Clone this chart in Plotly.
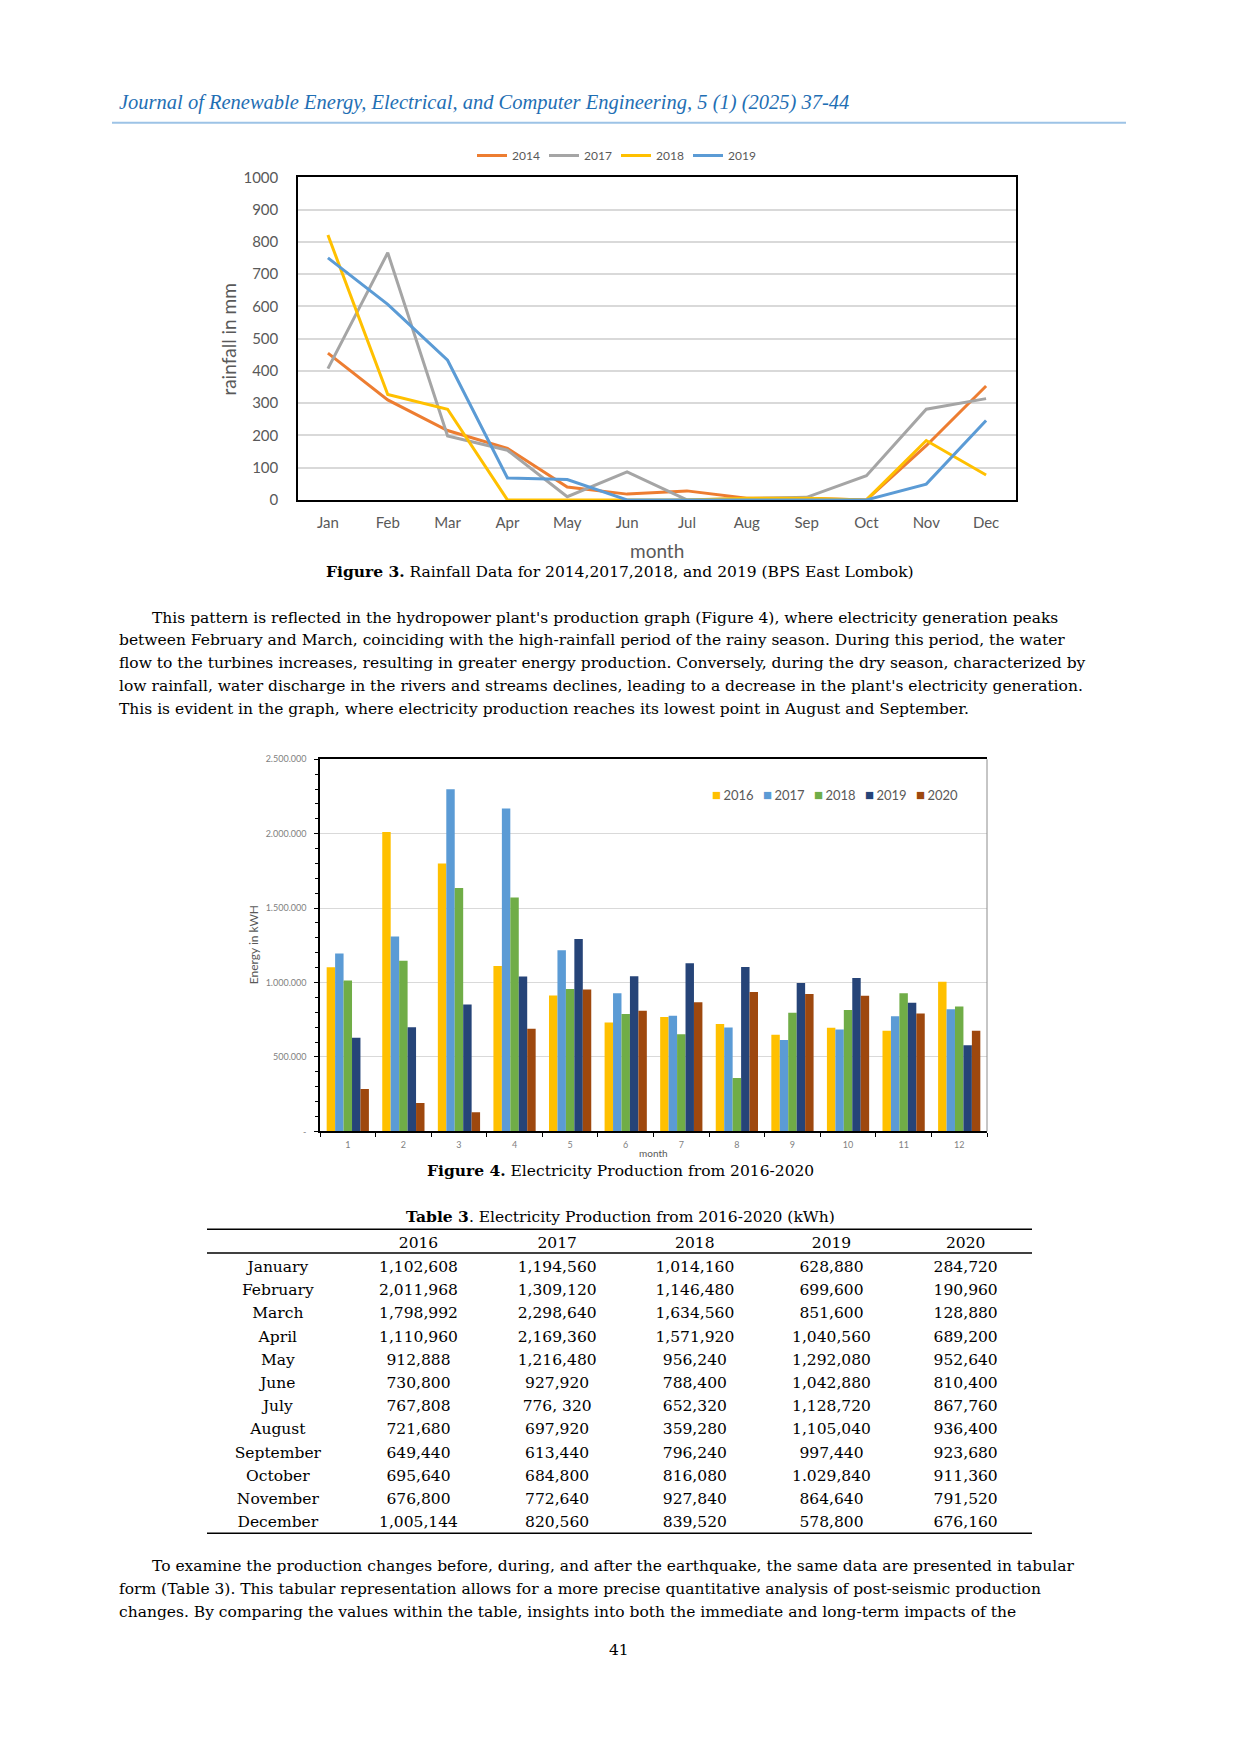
import plotly.graph_objects as go

W, H = 1240, 1754

# ---------------- Data ----------------
months_short = ["Jan", "Feb", "Mar", "Apr", "May", "Jun", "Jul", "Aug", "Sep", "Oct", "Nov", "Dec"]
rain_2014 = [455, 310, 215, 160, 40, 18, 28, 5, 5, 0, 168, 353]
rain_2017 = [407, 766, 198, 154, 10, 87, 0, 5, 8, 75, 281, 314]
rain_2018 = [821, 327, 281, 0, 0, 0, 0, 5, 5, 0, 184, 77]
rain_2019 = [750, 606, 433, 68, 63, 0, 0, 0, 0, 0, 49, 246]

month_num = [str(i) for i in range(1, 13)]
months_long = ["January", "February", "March", "April", "May", "June", "July",
               "August", "September", "October", "November", "December"]
prod_2016 = [1102608, 2011968, 1798992, 1110960, 912888, 730800, 767808, 721680, 649440, 695640, 676800, 1005144]
prod_2017 = [1194560, 1309120, 2298640, 2169360, 1216480, 927920, 776320, 697920, 613440, 684800, 772640, 820560]
prod_2018 = [1014160, 1146480, 1634560, 1571920, 956240, 788400, 652320, 359280, 796240, 816080, 927840, 839520]
prod_2019 = [628880, 699600, 851600, 1040560, 1292080, 1042880, 1128720, 1105040, 997440, 1029840, 864640, 578800]
prod_2020 = [284720, 190960, 128880, 689200, 952640, 810400, 867760, 936400, 923680, 911360, 791520, 676160]

energy_tickvals = [0, 500000, 1000000, 1500000, 2000000, 2500000]
energy_ticktext = ["-", "500.000", "1.000.000", "1.500.000", "2.000.000", "2.500.000"]

# table text as printed (two typographic quirks in the source table)
table_quirks = {("2017", 6): "776, 320", ("2019", 9): "1.029,840"}


def fmt_col(year, vals):
    return [table_quirks.get((year, i), f"{v:,}") for i, v in enumerate(vals)]


# ---------------- helpers ----------------
def px_x(x):
    return x / W


def px_y(y):
    return 1 - y / H


SERIF = "DejaVu Serif"
SERIF_IT = "Liberation Serif"
SANS = "Lato"
GRAY_TXT = "#595959"
BODY = 15.5

fig = go.Figure()

# ---------------- Figure 3: rainfall lines ----------------
rain_series = [("2014", rain_2014, "#ED7D31"), ("2017", rain_2017, "#A5A5A5"),
               ("2018", rain_2018, "#FFC000"), ("2019", rain_2019, "#5B9BD5")]
for name, vals, col in rain_series:
    fig.add_trace(go.Scatter(x=months_short, y=vals, name=name, mode="lines",
                             line=dict(color=col, width=3), xaxis="x", yaxis="y",
                             legend="legend"))

# ---------------- Figure 4: production bars ----------------
prod_series = [("2016", prod_2016, "#FFC000"), ("2017", prod_2017, "#5B9BD5"),
               ("2018", prod_2018, "#70AD47"), ("2019", prod_2019, "#264478"),
               ("2020", prod_2020, "#9E480E")]
for name, vals, col in prod_series:
    fig.add_trace(go.Bar(x=month_num, y=vals, name=name, marker=dict(color=col, line=dict(width=0)),
                         xaxis="x2", yaxis="y2", showlegend=False))

# ---------------- Table 3 ----------------
fig.add_trace(go.Table(
    domain=dict(x=[px_x(207), px_x(1032)], y=[px_y(1575), px_y(1231)]),
    columnwidth=[142, 140, 138, 138, 136, 133],
    header=dict(values=["", "2016", "2017", "2018", "2019", "2020"],
                align="center", height=24,
                font=dict(family=SERIF, size=BODY, color="black"),
                fill=dict(color="white"), line=dict(color="rgba(0,0,0,0)", width=0)),
    cells=dict(values=[months_long, fmt_col("2016", prod_2016), fmt_col("2017", prod_2017),
                       fmt_col("2018", prod_2018), fmt_col("2019", prod_2019), fmt_col("2020", prod_2020)],
               align="center", height=23.2,
               font=dict(family=SERIF, size=BODY, color="black"),
               fill=dict(color="white"), line=dict(color="rgba(0,0,0,0)", width=0)),
))

# ---------------- layout ----------------
fig.update_layout(
    width=W, height=H, margin=dict(l=0, r=0, t=0, b=0),
    paper_bgcolor="white", plot_bgcolor="white",
    showlegend=True,
    barmode="group", bargap=0.24, bargroupgap=0,
    xaxis=dict(domain=[px_x(298), px_x(1016)], anchor="y", type="category",
               range=[-0.5, 11.5], showline=True, linecolor="black", linewidth=1.5, mirror=True,
               showgrid=False, ticks="", ticklabelstandoff=8,
               tickfont=dict(family=SANS, size=15, color=GRAY_TXT)),
    yaxis=dict(domain=[px_y(495), px_y(169)], anchor="x", range=[0, 1000], dtick=100,
               showline=True, linecolor="black", linewidth=1.5, mirror=True,
               showgrid=True, gridcolor="#D9D9D9", gridwidth=1.5, zeroline=False,
               ticks="", ticklabelstandoff=15,
               tickfont=dict(family=SANS, size=15, color=GRAY_TXT)),
    xaxis2=dict(domain=[px_x(320), px_x(987)], anchor="y2", type="category",
                range=[-0.5, 11.5], showline=True, linecolor="black", linewidth=1.5, mirror=True,
                showgrid=False, ticks="outside", tickson="boundaries", ticklen=4,
                tickcolor="black", ticklabelstandoff=4,
                tickfont=dict(family=SANS, size=9, color="#7F7F7F")),
    yaxis2=dict(domain=[px_y(1133), px_y(757)], anchor="x2", range=[0, 2500000],
                tickvals=energy_tickvals, ticktext=energy_ticktext,
                showline=True, linecolor="black", linewidth=1.5, mirror=False,
                showgrid=True, gridcolor="#D9D9D9", gridwidth=1, zeroline=False,
                ticks="outside", ticklen=4, tickcolor="black", ticklabelstandoff=6,
                minor=dict(dtick=100000, ticks="outside", ticklen=3, tickcolor="black", showgrid=False),
                tickfont=dict(family=SANS, size=9, color="#7F7F7F")),
    legend=dict(orientation="h", x=px_x(616), xanchor="center", y=px_y(147), yanchor="middle",
                font=dict(family=SANS, size=12, color=GRAY_TXT), itemwidth=30,
                entrywidth=27, tracegroupgap=0, bgcolor="rgba(0,0,0,0)"),
)

# ---------------- decorations: rules and frames ----------------
shapes = [
    dict(type="line", xref="paper", yref="paper", x0=px_x(112), x1=px_x(1126), y0=px_y(114), y1=px_y(114),
         line=dict(color="#9DC3E6", width=2)),
    dict(type="line", xref="x2 domain", yref="y2 domain", x0=1, x1=1, y0=0, y1=1,
         line=dict(color="#8C8C8C", width=1)),
    dict(type="line", xref="paper", yref="paper", x0=px_x(207), x1=px_x(1032), y0=px_y(1232), y1=px_y(1232),
         line=dict(color="black", width=1.5)),
    dict(type="line", xref="paper", yref="paper", x0=px_x(207), x1=px_x(1032), y0=px_y(1256), y1=px_y(1256),
         line=dict(color="black", width=1.5)),
    dict(type="line", xref="paper", yref="paper", x0=px_x(207), x1=px_x(1032), y0=px_y(1539), y1=px_y(1539),
         line=dict(color="black", width=1.5)),
]
fig.update_layout(shapes=shapes)

# ---------------- text ----------------
ann = []


def text(x, y, s, size=BODY, family=SERIF, color="black", xanchor="left", **kw):
    ann.append(dict(x=px_x(x), y=px_y(y), xref="paper", yref="paper", text=s, showarrow=False,
                    xanchor=xanchor, yanchor="middle", font=dict(family=family, size=size, color=color), **kw))


text(117, 93, "<i>Journal of Renewable Energy, Electrical, and Computer Engineering, 5 (1) (2025) 37-44</i>",
     size=20.5, family=SERIF_IT, color="#1F6FB4")

# chart 1 titles
text(229, 333, "rainfall in mm", size=19, family=SANS, color=GRAY_TXT, xanchor="center", textangle=-90)
text(657, 546, "month", size=19, family=SANS, color=GRAY_TXT, xanchor="center")
text(620, 567, "<b>Figure 3.</b> Rainfall Data for 2014,2017,2018, and 2019 (BPS East Lombok)",
     xanchor="center")

para1 = [
    "This pattern is reflected in the hydropower plant's production graph (Figure 4), where electricity generation peaks",
    "between February and March, coinciding with the high-rainfall period of the rainy season. During this period, the water",
    "flow to the turbines increases, resulting in greater energy production. Conversely, during the dry season, characterized by",
    "low rainfall, water discharge in the rivers and streams declines, leading to a decrease in the plant's electricity generation.",
    "This is evident in the graph, where electricity production reaches its lowest point in August and September.",
]
for i, line in enumerate(para1):
    text(150 if i == 0 else 117, 614 + i * 23, line)

# chart 2 legend (compact Excel-style key built from the series names/colours)
for i, (name, vals, col) in enumerate(prod_series):
    text(710 + i * 51, 792,
         f"<span style='color:{col};font-size:15px'>■</span><span style='font-size:9px'>&nbsp;</span>{name}",
         size=13, family=SANS, color=GRAY_TXT)

# chart 2 titles
text(253, 945, "Energy in kWH", size=12, family=SANS, color=GRAY_TXT, xanchor="center", textangle=-90)
text(653, 1155, "month", size=10, family=SANS, color=GRAY_TXT, xanchor="center")
text(620, 1173, "<b>Figure 4.</b> Electricity Production from 2016-2020", xanchor="center")
text(620, 1219, "<b>Table 3</b>. Electricity Production from 2016-2020 (kWh)", xanchor="center")

para2 = [
    "To examine the production changes before, during, and after the earthquake, the same data are presented in tabular",
    "form (Table 3). This tabular representation allows for a more precise quantitative analysis of post-seismic production",
    "changes. By comparing the values within the table, insights into both the immediate and long-term impacts of the",
]
for i, line in enumerate(para2):
    text(150 if i == 0 else 117, 1572 + i * 23.5, line)

text(619, 1657, "41", xanchor="center")

fig.update_layout(annotations=ann)

fig.write_html("out.html", config={"displayModeBar": False},
               post_script="document.body.style.margin='0px';document.body.style.padding='0px';")
